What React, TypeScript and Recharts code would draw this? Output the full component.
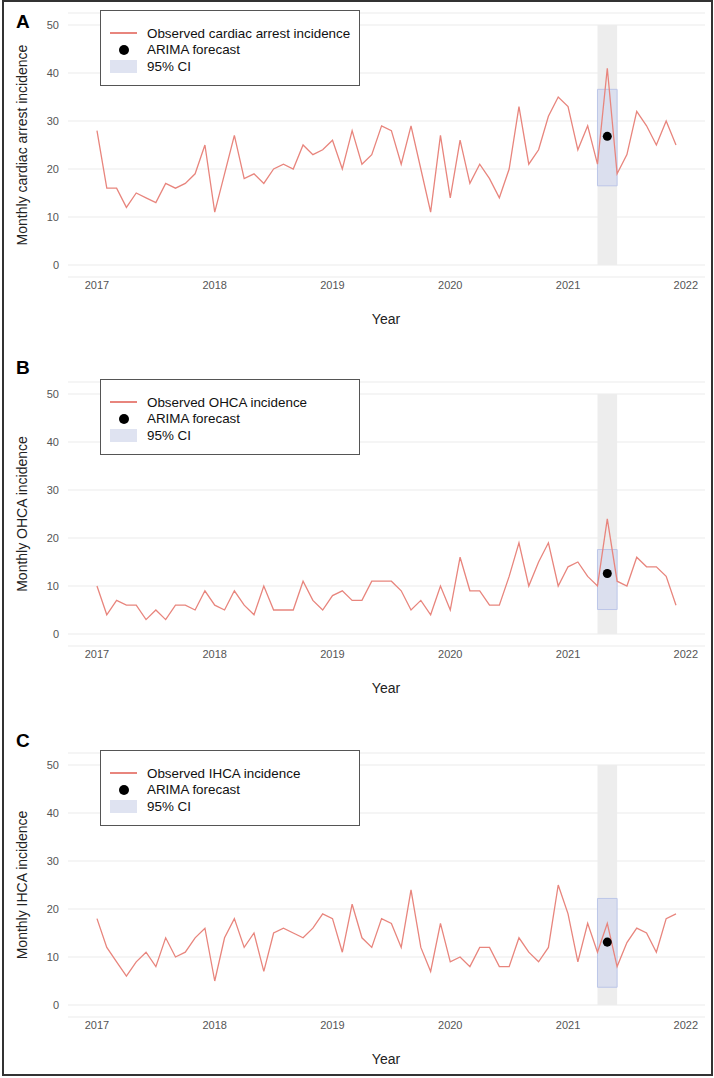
import React from "react";
import {
  ComposedChart, Line, Scatter, ReferenceArea, XAxis, YAxis, CartesianGrid, Legend,
} from "recharts";

// ── Cardiac arrest ARIMA panels (A: all, B: OHCA, C: IHCA) ──

const FONT = '"Liberation Sans", Arial, Helvetica, sans-serif';
const OBS = "#E8857D";
const GRID = "#EBEBEB";
const TICK = "#555555";
const BAND = "#EDEDED";
const CI_FILL = "#C9D2EF";
const CI_EDGE = "#BCC6E8";

// monthly observations Jan 2017 .. Dec 2021
const MONTHS = Array.from({ length: 60 }, (_, i) => 2017 + i / 12);
const YEAR_TICKS = [2017, 2018, 2019, 2020, 2021, 2022];
const Y_TICKS = [0, 10, 20, 30, 40, 50];

const ALL_CA = [
  28, 16, 16, 12, 15, 14, 13, 17, 16, 17, 19, 25,
  11, 19, 27, 18, 19, 17, 20, 21, 20, 25, 23, 24,
  26, 20, 28, 21, 23, 29, 28, 21, 29, 20, 11, 27,
  14, 26, 17, 21, 18, 14, 20, 33, 21, 24, 31, 35,
  33, 24, 29, 21, 41, 19, 23, 32, 29, 25, 30, 25,
];
const OHCA = [
  10, 4, 7, 6, 6, 3, 5, 3, 6, 6, 5, 9,
  6, 5, 9, 6, 4, 10, 5, 5, 5, 11, 7, 5,
  8, 9, 7, 7, 11, 11, 11, 9, 5, 7, 4, 10,
  5, 16, 9, 9, 6, 6, 12, 19, 10, 15, 19, 10,
  14, 15, 12, 10, 24, 11, 10, 16, 14, 14, 12, 6,
];
const IHCA = [
  18, 12, 9, 6, 9, 11, 8, 14, 10, 11, 14, 16,
  5, 14, 18, 12, 15, 7, 15, 16, 15, 14, 16, 19,
  18, 11, 21, 14, 12, 18, 17, 12, 24, 12, 7, 17,
  9, 10, 8, 12, 12, 8, 8, 14, 11, 9, 12, 25,
  19, 9, 17, 11, 17, 8, 13, 16, 15, 11, 18, 19,
];

// forecast month (May 2021) and the highlighted window around it
const FORECAST_MONTH = 2021 + 4 / 12;
const WINDOW_START = 2021 + 3 / 12;
const WINDOW_END = 2021 + 5 / 12;
const FORECAST = [26.8, 12.6, 13.1];
const CI_LOWER = [16.5, 5.1, 3.7];
const CI_UPPER = [36.6, 17.6, 22.2];

const LETTERS = ["A", "B", "C"];
const Y_TITLES = [
  "Monthly cardiac arrest incidence",
  "Monthly OHCA incidence",
  "Monthly IHCA incidence",
];
const OBS_LABELS = [
  "Observed cardiac arrest incidence",
  "Observed OHCA incidence",
  "Observed IHCA incidence",
];
const SERIES = [ALL_CA, OHCA, IHCA];
const PANEL_TOPS = [0, 369, 740];
const LETTER_Y = [22, 368, 741];

function LegendBox({ label }: { label: string }) {
  const row: React.CSSProperties = { display: "flex", alignItems: "center", height: 16.5 };
  const key: React.CSSProperties = { width: 27, display: "flex", justifyContent: "center", marginRight: 10 };
  return (
    <div style={{
      width: 260, height: 76, boxSizing: "border-box", border: "1px solid #555", background: "#fff",
      padding: "14px 0 0 9px", fontFamily: FONT, fontSize: 13.4, color: "#111",
    }}>
      <div style={row}>
        <span style={key}><span style={{ width: 27, height: 2, background: OBS }} /></span>
        {label}
      </div>
      <div style={row}>
        <span style={key}><span style={{ width: 10, height: 10, borderRadius: 5, background: "#000" }} /></span>
        ARIMA forecast
      </div>
      <div style={row}>
        <span style={key}><span style={{ width: 27, height: 13, background: "#DFE3F1" }} /></span>
        95% CI
      </div>
    </div>
  );
}

function Panel({ idx }: { idx: number }) {
  const values = SERIES[idx];
  const data = MONTHS.map((t, i) => ({ t, obs: values[i] }));
  const fc = [{ t: FORECAST_MONTH, fc: FORECAST[idx] }];
  const top = PANEL_TOPS[idx];

  return (
    <div style={{ position: "absolute", left: 0, top, width: 714, height: 340 }}>
      <ComposedChart width={714} height={300} data={data} margin={{ top: 13, right: 9, bottom: 0, left: 28 }}>
        <CartesianGrid stroke={GRID} strokeWidth={1} vertical={false} />
        <XAxis
          dataKey="t" type="number" domain={[2016.754, 2022.163]} ticks={YEAR_TICKS} allowDataOverflow
          axisLine={false} tickLine={false} tickSize={0} tickMargin={4} height={23}
          tick={{ fontSize: 11, fill: TICK, fontFamily: FONT }}
        />
        <YAxis
          type="number" domain={[-2.5, 52.5]} ticks={Y_TICKS} allowDataOverflow
          axisLine={false} tickLine={false} tickSize={0} tickMargin={9} width={40}
          tick={{ fontSize: 11, fill: TICK, fontFamily: FONT }}
        />
        <ReferenceArea x1={WINDOW_START} x2={WINDOW_END} y1={0} y2={50} fill={BAND} fillOpacity={1} stroke="none" />
        <Line dataKey="obs" type="linear" stroke={OBS} strokeWidth={1.3} dot={false} isAnimationActive={false} />
        <ReferenceArea
          x1={WINDOW_START} x2={WINDOW_END} y1={CI_LOWER[idx]} y2={CI_UPPER[idx]}
          fill={CI_FILL} fillOpacity={0.5} stroke={CI_EDGE} strokeWidth={1}
        />
        <Scatter data={fc} dataKey="fc" fill="#000" isAnimationActive={false} />
        <Legend
          layout="vertical" align="center" verticalAlign="middle"
          wrapperStyle={{ left: 100, top: 10, width: 260, height: 76 }}
          content={() => <LegendBox label={OBS_LABELS[idx]} />}
        />
      </ComposedChart>

      {/* axis titles */}
      <div style={{
        position: "absolute", left: 22, top: 145, width: 0, height: 0,
        display: "flex", alignItems: "center", justifyContent: "center",
      }}>
        <div style={{ transform: "rotate(-90deg)", whiteSpace: "nowrap", fontSize: 14, color: "#222", fontFamily: FONT }}>
          {Y_TITLES[idx]}
        </div>
      </div>
      <div style={{
        position: "absolute", left: 286, width: 200, top: 310, textAlign: "center",
        fontSize: 14, color: "#222", fontFamily: FONT, lineHeight: "18px",
      }}>
        Year
      </div>
    </div>
  );
}

export default function App() {
  return (
    <div style={{ position: "relative", width: 714, height: 1078, background: "#fff", fontFamily: FONT, overflow: "hidden" }}>
      <style>{"body{margin:0}"}</style>
      {[0, 1, 2].map((i) => <Panel key={i} idx={i} />)}
      {LETTERS.map((l, i) => (
        <div key={l} style={{
          position: "absolute", left: 16, top: LETTER_Y[i] - 11, lineHeight: "22px",
          fontSize: 19, fontWeight: 700, color: "#000", fontFamily: FONT,
        }}>
          {l}
        </div>
      ))}
      <div style={{
        position: "absolute", left: 2, top: 0, width: 711, height: 1076,
        boxSizing: "border-box", border: "2px solid #333", pointerEvents: "none",
      }} />
    </div>
  );
}
